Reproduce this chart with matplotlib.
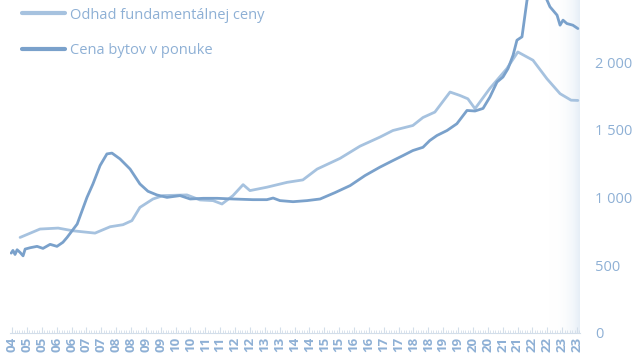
import numpy as np
import matplotlib
matplotlib.use("Agg")
import matplotlib.pyplot as plt
from matplotlib.ticker import FuncFormatter, MultipleLocator
from matplotlib.colors import LinearSegmentedColormap

plt.rcParams['font.family'] = ['Open Sans', 'DejaVu Sans']

# Odhad fundamentálnej ceny (decimal year, EUR/m2)
fund_t = [2004.77, 2005.44, 2006.05, 2006.55, 2007.29, 2007.80, 2008.23, 2008.53,
          2008.80, 2009.24, 2009.58, 2010.38, 2010.82, 2011.26, 2011.56, 2011.93,
          2012.27, 2012.50, 2013.07, 2013.75, 2014.28, 2014.76, 2015.53, 2016.20,
          2016.87, 2017.31, 2017.98, 2018.32, 2018.72, 2019.23, 2019.56, 2019.83,
          2020.07, 2020.57, 2021.14, 2021.51, 2022.02, 2022.49, 2022.93, 2023.30,
          2023.53]
fund_v = [706, 768, 775, 755, 738, 785, 800, 830,
          928, 990, 1015, 1020, 983, 978, 953, 1015,
          1096, 1052, 1077, 1113, 1131, 1211, 1290, 1380,
          1447, 1496, 1533, 1592, 1632, 1780, 1755, 1730,
          1657, 1807, 1953, 2076, 2015, 1878, 1768, 1720,
          1718]

# Cena bytov v ponuke
offer_t = [2004.47, 2004.53, 2004.60, 2004.67, 2004.77, 2004.87, 2004.94, 2005.11,
           2005.34, 2005.54, 2005.78, 2006.01, 2006.21, 2006.35, 2006.69, 2007.02,
           2007.22, 2007.46, 2007.69, 2007.86, 2008.13, 2008.47, 2008.80, 2009.07,
           2009.37, 2009.71, 2010.15, 2010.49, 2010.93, 2011.40, 2011.93, 2012.60,
           2013.07, 2013.28, 2013.51, 2013.95, 2014.42, 2014.86, 2015.36, 2015.87,
           2016.37, 2016.87, 2017.31, 2017.65, 2017.98, 2018.32, 2018.55, 2018.79,
           2019.13, 2019.46, 2019.80, 2020.07, 2020.34, 2020.57, 2020.81, 2021.01,
           2021.18, 2021.35, 2021.48, 2021.65, 2021.82, 2022.09, 2022.32, 2022.49,
           2022.59, 2022.83, 2022.93, 2023.03, 2023.16, 2023.36, 2023.53]
offer_v = [590, 610, 580, 615, 595, 570, 620, 630,
           640, 625, 655, 640, 670, 706, 805, 1002,
           1101, 1237, 1323, 1329, 1286, 1211, 1101, 1047,
           1020, 1002, 1015, 990, 995, 995, 990, 985,
           985, 997, 978, 970, 978, 990, 1037, 1089,
           1163, 1225, 1274, 1311, 1348, 1372, 1422, 1459,
           1496, 1546, 1644, 1640, 1659, 1743, 1854, 1891,
           1953, 2052, 2163, 2188, 2460, 2560, 2530, 2460,
           2410, 2348, 2274, 2311, 2286, 2274, 2249]

labels = ["Odhad fundamentálnej ceny", "Cena bytov v ponuke"]
tick_years = ["04"] + [f"{y:02d}" for y in range(5, 24) for _ in range(2)]

c_fund = "#a6c2df"
c_offer = "#7aa1cb"
c_text = "#8eb0d5"

fig = plt.figure(figsize=(6.4, 3.6), dpi=100)
ax = fig.add_axes([0.0156, 0.075, 0.8906, 0.925])

ax.plot(fund_t, fund_v, color=c_fund, lw=2.0, label=labels[0], solid_capstyle="round")
ax.plot(offer_t, offer_v, color=c_offer, lw=2.0, label=labels[1], solid_capstyle="round")

# faint gradient band at the right edge
grad = np.linspace(0, 1, 50).reshape(1, -1) ** 1.5
cmap = LinearSegmentedColormap.from_list("g", [(1, 1, 1, 0), (0.85, 0.9, 0.95, 0.65)])
ax.imshow(grad, extent=[2022.5, 2023.6, 0, 2460], aspect="auto", cmap=cmap, zorder=0)

ax.set_xlim(2004.43, 2023.60)
ax.set_ylim(0, 2460)

ticks = [2004.5 + 0.5 * i for i in range(len(tick_years))]
ax.set_xticks(ticks)
ax.set_xticklabels(tick_years, rotation=90, fontsize=9.5, fontweight="bold", color=c_text)
ax.xaxis.set_minor_locator(MultipleLocator(1 / 12))
ax.tick_params(axis="x", which="major", direction="in", length=4, color="#d3deea", pad=3)
ax.tick_params(axis="x", which="minor", direction="in", length=2, color="#d3deea")

ax.yaxis.tick_right()
ax.set_yticks([0, 500, 1000, 1500, 2000])
ax.yaxis.set_major_formatter(FuncFormatter(lambda v, p: f"{int(v):,}".replace(",", " ")))
ax.tick_params(axis="y", length=0, pad=11, labelsize=10.5, labelcolor=c_text)
for lab in ax.get_yticklabels():
    lab.set_horizontalalignment("left")

for s in ["top", "left", "right"]:
    ax.spines[s].set_visible(False)
ax.spines["bottom"].set_color("#d3deea")

leg = fig.legend(loc="upper left", bbox_to_anchor=(0.034, 0.979), frameon=False,
                 handlelength=2.95, handletextpad=0.35, labelspacing=1.4,
                 fontsize=10.5, labelcolor=c_text, borderaxespad=0, borderpad=0)
for h in leg.get_lines():
    h.set_linewidth(3.0)

fig.savefig("out.png", dpi=100)
